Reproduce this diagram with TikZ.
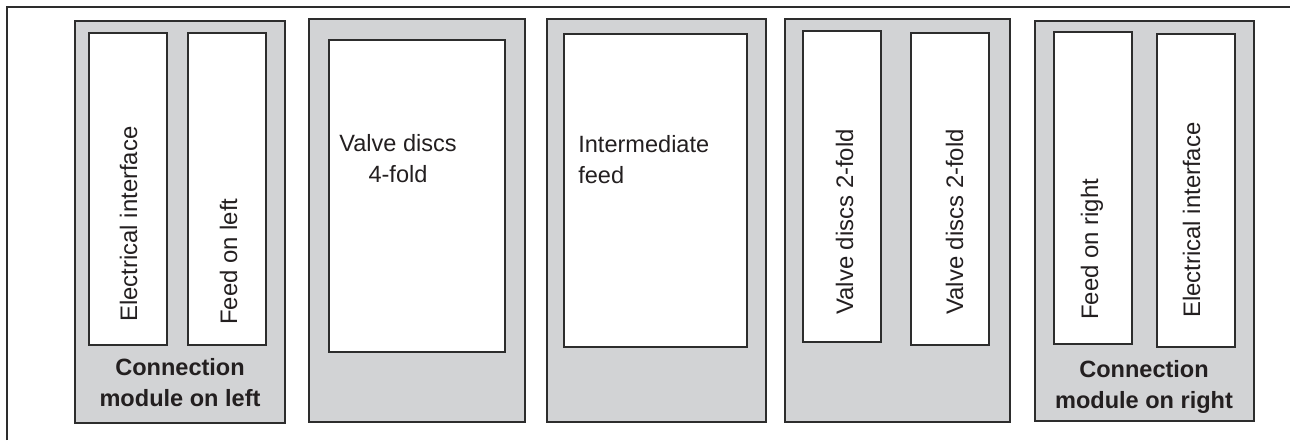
\documentclass[tikz,border=0pt]{standalone}
\usepackage{fontspec}
\setmainfont{Liberation Sans}
\usepackage{xcolor}
\usepackage{tikz}

\definecolor{modgray}{RGB}{210,211,213}
\definecolor{edgegray}{RGB}{45,45,45}
\definecolor{inkgray}{RGB}{35,31,32}

\tikzset{
  module/.style={draw=edgegray, line width=0.8pt, fill=modgray},
  slot/.style={draw=edgegray, line width=0.8pt, fill=white},
  vlabel/.style={rotate=90, anchor=base west, inner sep=0pt, text=inkgray,
    font=\fontsize{13.6}{17}\selectfont},
  hlabel/.style={inner sep=0pt, text=inkgray, font=\fontsize{13.4}{17.5}\selectfont},
  modlabel/.style={inner sep=0pt, align=center, text=inkgray,
    font=\fontsize{13.4}{17.5}\selectfont\bfseries}
}

\begin{document}
\begin{tikzpicture}[x=0.02cm, y=-0.02cm]
  \useasboundingbox (0,0) rectangle (1290,440);

  % Outer frame (open to the right and bottom)
  \draw[edgegray, line width=1.1pt] (7,440) -- (7,7) -- (1290,7);

  % Connection module on left
  \draw[module] (75,21) rectangle (285,423);
  \draw[slot] (89,33) rectangle (167,345);
  \draw[slot] (188,33) rectangle (266,345);
  \node[vlabel] (elecL) at (137,322) {Electrical interface};
  \node[vlabel] (feedL) at (237,325) {Feed on left};
  \node[modlabel, anchor=base] (connL) at (180,406) {Connection\\module on left};

  % Valve discs 4-fold
  \draw[module] (309,19) rectangle (525,422);
  \draw[slot] (329,40) rectangle (505,352);
  \node[hlabel, align=center, anchor=base] (valve4) at (398,182) {Valve discs\\4-fold};

  % Intermediate feed
  \draw[module] (547,19) rectangle (766,422);
  \draw[slot] (564,34) rectangle (747,347);
  \node[hlabel, align=left, anchor=base west] (interfeed) at (578,183) {Intermediate\\feed};

  % Valve discs 2-fold
  \draw[module] (785,19) rectangle (1010,422);
  \draw[slot] (803,31) rectangle (881,342);
  \draw[slot] (911,33) rectangle (989,345);
  \node[vlabel] (valve2a) at (853,315) {Valve discs 2-fold};
  \node[vlabel] (valve2b) at (963,315) {Valve discs 2-fold};

  % Connection module on right
  \draw[module] (1035,21) rectangle (1254,421);
  \draw[slot] (1054,32) rectangle (1132,344);
  \draw[slot] (1157,34) rectangle (1235,347);
  \node[vlabel] (feedR) at (1098,320) {Feed on right};
  \node[vlabel] (elecR) at (1200,318) {Electrical interface};
  \node[modlabel, anchor=base] (connR) at (1144,408) {Connection\\module on right};
\end{tikzpicture}
\end{document}
